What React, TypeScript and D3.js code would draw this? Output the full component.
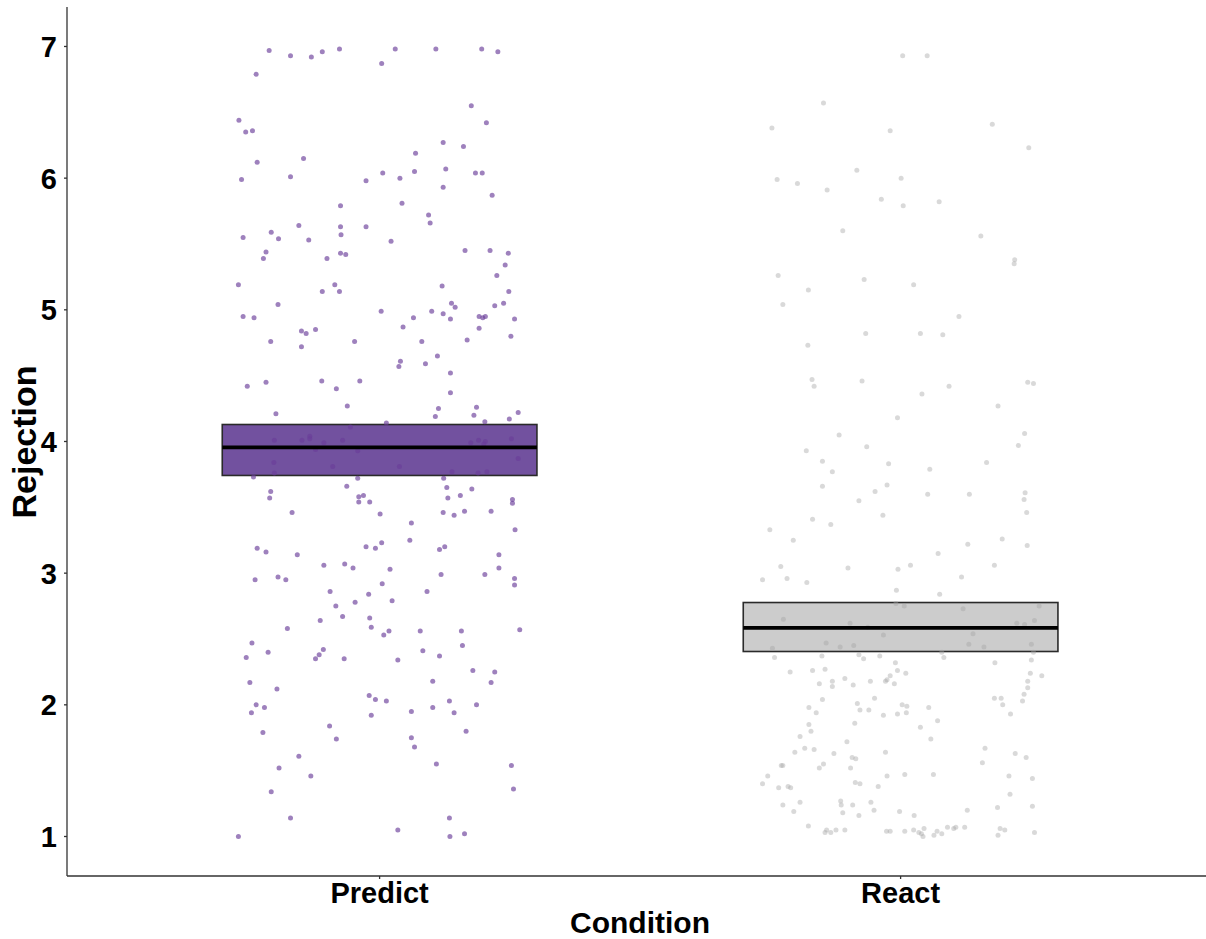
import React from "react";
import * as d3 from "d3";

// Categories
const categories = ["Predict", "React"];
const yTicks = [1, 2, 3, 4, 5, 6, 7];

// Summary boxes: [lower, mean, upper]
const predictSummary = [3.742, 3.955, 4.129];
const reactSummary = [2.405, 2.585, 2.777];

// Individual responses: [horizontal jitter (category units), Rejection]
const predictPoints: [number, number][] = [
  [-0.212, 6.97], [-0.171, 6.93], [-0.131, 6.92], [-0.11, 6.96], [-0.077, 6.98], [0.03, 6.98], [0.108, 6.98], [0.196, 6.98], [0.227, 6.96],
  [0.004, 6.87], [-0.237, 6.79], [0.176, 6.55], [-0.27, 6.44], [0.205, 6.42], [-0.257, 6.35], [-0.244, 6.36], [0.122, 6.27], [0.161, 6.24],
  [0.069, 6.19], [-0.235, 6.12], [-0.146, 6.15], [-0.265, 5.99], [-0.171, 6.01], [-0.026, 5.98], [0.006, 6.04], [0.039, 6.0], [0.067, 6.05],
  [0.127, 6.07], [0.184, 6.04], [0.197, 6.04], [0.122, 5.93], [0.216, 5.87], [-0.075, 5.79], [0.043, 5.81], [0.094, 5.72], [0.097, 5.66],
  [-0.155, 5.64], [-0.075, 5.63], [-0.026, 5.63], [-0.262, 5.55], [-0.208, 5.59], [-0.194, 5.54], [-0.136, 5.53], [-0.074, 5.57], [0.022, 5.52],
  [-0.218, 5.44], [-0.223, 5.39], [-0.101, 5.39], [-0.075, 5.43], [-0.065, 5.42], [0.164, 5.45], [0.212, 5.45], [0.247, 5.43], [0.241, 5.34],
  [0.225, 5.26], [-0.271, 5.19], [-0.11, 5.14], [-0.086, 5.19], [-0.077, 5.14], [0.12, 5.18], [0.248, 5.14], [-0.195, 5.04], [0.138, 5.05],
  [0.145, 5.02], [0.221, 5.03], [0.238, 5.05], [-0.262, 4.95], [-0.241, 4.94], [0.003, 4.99], [0.065, 4.94], [0.1, 4.99], [0.122, 4.97],
  [0.136, 4.93], [0.191, 4.95], [0.198, 4.94], [0.203, 4.95], [0.259, 4.93], [-0.15, 4.84], [-0.141, 4.82], [-0.123, 4.85], [0.045, 4.87],
  [0.191, 4.86], [-0.209, 4.76], [-0.15, 4.72], [-0.048, 4.76], [0.081, 4.76], [0.168, 4.77], [0.252, 4.8], [0.04, 4.61], [0.037, 4.57],
  [0.088, 4.59], [0.111, 4.65], [0.136, 4.52], [-0.254, 4.42], [-0.218, 4.45], [-0.111, 4.46], [-0.083, 4.4], [-0.038, 4.46], [0.136, 4.37],
  [-0.062, 4.27], [0.113, 4.25], [0.186, 4.26], [-0.199, 4.21], [0.107, 4.19], [0.181, 4.2], [0.249, 4.17], [0.266, 4.22], [0.202, 4.15],
  [0.013, 4.14], [-0.056, 4.11], [-0.202, 4.01], [-0.149, 4.01], [-0.134, 4.04], [-0.134, 4.02], [-0.107, 3.99], [-0.071, 4.01], [0.175, 3.99],
  [0.19, 4.01], [0.203, 4.0], [0.2, 3.98], [0.253, 4.02], [-0.123, 3.94], [-0.042, 3.93], [-0.203, 3.84], [-0.202, 3.76], [-0.09, 3.81],
  [0.038, 3.81], [0.139, 3.77], [0.189, 3.76], [0.206, 3.77], [0.266, 3.87], [-0.242, 3.73], [-0.042, 3.72], [-0.063, 3.66], [0.123, 3.72],
  [0.129, 3.65], [-0.209, 3.62], [-0.211, 3.57], [-0.04, 3.58], [-0.031, 3.59], [-0.04, 3.54], [-0.019, 3.54], [0.131, 3.57], [0.155, 3.59],
  [0.177, 3.64], [0.255, 3.56], [0.255, 3.53], [-0.168, 3.46], [0.001, 3.45], [0.122, 3.46], [0.143, 3.44], [0.163, 3.47], [0.214, 3.47],
  [0.061, 3.38], [0.26, 3.33], [-0.235, 3.19], [-0.218, 3.16], [-0.158, 3.14], [-0.026, 3.2], [-0.008, 3.19], [0.004, 3.23], [0.058, 3.25],
  [0.115, 3.18], [0.125, 3.2], [0.229, 3.14], [-0.107, 3.06], [-0.067, 3.07], [-0.051, 3.04], [0.02, 3.03], [0.229, 3.04], [-0.239, 2.95],
  [-0.195, 2.97], [-0.18, 2.95], [0.118, 2.99], [0.202, 2.99], [0.259, 2.96], [0.259, 2.91], [0.005, 2.92], [-0.095, 2.86], [-0.021, 2.84],
  [0.091, 2.86], [-0.084, 2.75], [-0.047, 2.78], [0.024, 2.79], [-0.114, 2.64], [-0.071, 2.67], [-0.019, 2.66], [-0.016, 2.59], [0.018, 2.56],
  [0.008, 2.53], [-0.177, 2.58], [0.078, 2.56], [0.157, 2.56], [0.269, 2.57], [-0.245, 2.47], [-0.256, 2.36], [-0.214, 2.4], [-0.123, 2.35],
  [-0.116, 2.38], [-0.108, 2.42], [-0.068, 2.35], [0.035, 2.34], [0.083, 2.41], [0.115, 2.37], [0.159, 2.45], [0.179, 2.26], [0.221, 2.25],
  [0.214, 2.17], [-0.249, 2.17], [-0.197, 2.12], [0.102, 2.18], [-0.02, 2.07], [-0.008, 2.04], [0.013, 2.03], [-0.237, 2.0], [-0.246, 1.94],
  [-0.221, 1.98], [-0.016, 1.92], [0.061, 1.95], [0.102, 1.98], [0.134, 2.03], [0.143, 1.94], [0.186, 2.0], [-0.224, 1.79], [-0.096, 1.84],
  [-0.083, 1.74], [0.061, 1.75], [0.067, 1.68], [0.166, 1.8], [-0.155, 1.61], [-0.193, 1.52], [-0.132, 1.46], [0.109, 1.55], [0.253, 1.54],
  [0.257, 1.36], [-0.208, 1.34], [-0.171, 1.14], [0.134, 1.14], [-0.271, 1.0], [0.035, 1.05], [0.135, 1.0], [0.163, 1.02],
];

const reactPoints: [number, number][] = [
  [0.004, 6.93], [0.051, 6.93], [-0.148, 6.57], [-0.247, 6.38], [-0.02, 6.36], [0.176, 6.41], [0.246, 6.23], [-0.237, 5.99], [-0.198, 5.96],
  [-0.141, 5.91], [-0.084, 6.06], [0.001, 6.0], [-0.037, 5.84], [0.005, 5.79], [0.074, 5.82], [-0.111, 5.6], [0.154, 5.56], [0.219, 5.38],
  [0.218, 5.35], [-0.235, 5.26], [-0.177, 5.15], [-0.226, 5.04], [-0.07, 5.23], [0.025, 5.19], [0.112, 4.95], [-0.067, 4.82], [0.038, 4.82],
  [0.081, 4.81], [-0.178, 4.73], [-0.17, 4.47], [-0.166, 4.42], [-0.074, 4.46], [0.041, 4.36], [0.093, 4.42], [0.244, 4.45], [0.255, 4.44],
  [0.187, 4.27], [-0.006, 4.18], [-0.118, 4.05], [-0.065, 3.96], [0.238, 4.06], [0.226, 3.97], [-0.181, 3.93], [-0.15, 3.85], [-0.131, 3.77],
  [-0.023, 3.83], [0.056, 3.79], [0.165, 3.84], [-0.15, 3.66], [-0.049, 3.62], [-0.026, 3.67], [0.052, 3.6], [0.132, 3.6], [0.239, 3.61],
  [0.237, 3.56], [-0.08, 3.55], [-0.034, 3.44], [0.242, 3.46], [-0.169, 3.41], [-0.134, 3.37], [-0.251, 3.33], [-0.206, 3.25], [0.129, 3.22],
  [0.195, 3.26], [0.243, 3.21], [0.072, 3.15], [-0.23, 3.05], [-0.101, 3.04], [-0.005, 3.03], [0.019, 3.06], [0.18, 3.06], [-0.265, 2.95],
  [-0.218, 2.96], [-0.18, 2.93], [0.117, 2.97], [-0.008, 2.87], [0.075, 2.84], [-0.009, 2.77], [0.007, 2.75], [0.12, 2.73], [0.266, 2.75],
  [-0.225, 2.65], [-0.097, 2.62], [-0.063, 2.59], [0.223, 2.62], [0.238, 2.61], [0.257, 2.64], [0.139, 2.54], [-0.033, 2.53], [-0.246, 2.43],
  [-0.143, 2.47], [-0.116, 2.44], [-0.09, 2.45], [0.131, 2.46], [0.16, 2.44], [0.251, 2.46], [-0.242, 2.36], [-0.151, 2.37], [-0.08, 2.38],
  [-0.071, 2.35], [-0.04, 2.37], [0.079, 2.4], [0.083, 2.36], [0.255, 2.4], [0.251, 2.34], [0.181, 2.32], [-0.212, 2.25], [-0.169, 2.26],
  [-0.145, 2.27], [-0.01, 2.32], [-0.006, 2.26], [0.01, 2.24], [0.249, 2.24], [0.271, 2.22], [-0.156, 2.16], [-0.131, 2.18], [-0.131, 2.14],
  [-0.107, 2.2], [-0.091, 2.15], [-0.058, 2.18], [-0.029, 2.18], [-0.026, 2.19], [-0.02, 2.22], [-0.012, 2.16], [0.244, 2.18], [0.244, 2.13],
  [-0.15, 2.04], [-0.083, 2.01], [-0.078, 1.96], [-0.061, 1.96], [-0.05, 2.05], [0.003, 2.0], [0.012, 1.99], [0.054, 1.98], [0.18, 2.05],
  [0.193, 2.05], [0.196, 2.0], [0.237, 2.08], [0.234, 2.03], [0.211, 1.93], [-0.176, 1.98], [-0.162, 1.94], [-0.033, 1.92], [-0.006, 1.93],
  [0.011, 1.94], [0.071, 1.88], [-0.176, 1.85], [-0.172, 1.8], [-0.088, 1.86], [0.038, 1.83], [0.058, 1.74], [-0.193, 1.76], [-0.103, 1.72],
  [-0.203, 1.64], [-0.184, 1.67], [-0.166, 1.66], [-0.128, 1.63], [-0.029, 1.64], [0.162, 1.67], [0.22, 1.63], [0.241, 1.6], [-0.229, 1.54],
  [-0.226, 1.54], [-0.148, 1.55], [-0.156, 1.52], [-0.096, 1.52], [-0.093, 1.6], [-0.086, 1.59], [0.157, 1.56], [-0.255, 1.46], [-0.265, 1.4],
  [-0.234, 1.37], [-0.216, 1.38], [-0.211, 1.37], [-0.087, 1.41], [-0.078, 1.4], [-0.043, 1.38], [-0.026, 1.46], [0.008, 1.47], [0.063, 1.47],
  [0.208, 1.46], [0.253, 1.44], [0.21, 1.32], [-0.226, 1.24], [-0.193, 1.26], [-0.205, 1.19], [-0.115, 1.27], [-0.114, 1.24], [-0.111, 1.18],
  [-0.092, 1.24], [-0.08, 1.16], [-0.057, 1.26], [-0.051, 1.2], [-0.002, 1.19], [0.026, 1.16], [0.128, 1.2], [0.186, 1.22], [0.253, 1.23],
  [-0.177, 1.08], [-0.145, 1.03], [-0.142, 1.05], [-0.134, 1.03], [-0.124, 1.05], [-0.107, 1.05], [-0.027, 1.04], [-0.02, 1.04], [0.008, 1.04],
  [0.025, 1.05], [0.035, 1.03], [0.04, 1.02], [0.043, 1.0], [0.045, 1.06], [0.064, 1.01], [0.07, 1.04], [0.079, 1.02], [0.09, 1.07],
  [0.102, 1.06], [0.106, 1.07], [0.123, 1.07], [0.187, 1.01], [0.191, 1.06], [0.2, 1.05], [0.257, 1.03],
];

const groups = [
  { name: categories[0], points: predictPoints, summary: predictSummary, boxFill: "#72519f", pointFill: "rgb(106,61,154)", pointOpacity: 0.65 },
  { name: categories[1], points: reactPoints, summary: reactSummary, boxFill: "#cccccc", pointFill: "rgb(165,165,165)", pointOpacity: 0.42 },
];

export default function App() {
  const W = 1206;
  const H = 939;
  const left = 67;
  const bottom = 876;
  const top = 7;

  const x = d3.scaleLinear().domain([0.4, 2.6]).range([left, left + 2.2 * 521]);
  const y = d3.scaleLinear().domain([0.7, 7.3]).range([bottom, bottom - 6.6 * 131.67]);
  const boxHalf = 0.302;
  const font = "Arial, 'Liberation Sans', sans-serif";

  return (
    <svg width={W} height={H} style={{ position: "absolute", left: 0, top: 0, background: "#fff" }} fontFamily={font}>
      {groups.map((g, gi) => {
        const cx = gi + 1;
        const [lo, mean, hi] = g.summary;
        return (
          <g key={g.name}>
            <rect
              x={x(cx - boxHalf)}
              y={y(hi)}
              width={x(cx + boxHalf) - x(cx - boxHalf)}
              height={y(lo) - y(hi)}
              fill={g.boxFill}
              stroke="#2a2a2a"
              strokeWidth={1.6}
            />
            {g.points.map((p, i) => (
              <circle key={i} cx={x(cx + p[0])} cy={y(p[1])} r={2.5} fill={g.pointFill} fillOpacity={g.pointOpacity} />
            ))}
            <line x1={x(cx - boxHalf)} x2={x(cx + boxHalf)} y1={y(mean)} y2={y(mean)} stroke="#000" strokeWidth={3.8} />
          </g>
        );
      })}
      {/* axes */}
      <line x1={left} x2={left} y1={top} y2={bottom} stroke="#333" strokeWidth={1.3} />
      <line x1={left} x2={W} y1={bottom} y2={bottom} stroke="#333" strokeWidth={1.3} />
      {yTicks.map((t) => (
        <g key={t}>
          <line x1={left - 3} x2={left} y1={y(t)} y2={y(t)} stroke="#333" strokeWidth={1.3} />
          <text x={left - 10} y={y(t)} dy="0.36em" textAnchor="end" fontSize={29} fontWeight="bold" fill="#000">
            {t}
          </text>
        </g>
      ))}
      {categories.map((c, i) => (
        <g key={c}>
          <line x1={x(i + 1)} x2={x(i + 1)} y1={bottom} y2={bottom + 3} stroke="#333" strokeWidth={1.3} />
          <text x={x(i + 1)} y={bottom + 27} textAnchor="middle" fontSize={29} fontWeight="bold" fill="#000">
            {c}
          </text>
        </g>
      ))}
      <text x={640} y={933} textAnchor="middle" fontSize={30} fontWeight="bold" fill="#000">
        Condition
      </text>
      <text transform={`translate(36, 442) rotate(-90)`} textAnchor="middle" fontSize={34} fontWeight="bold" fill="#000">
        Rejection
      </text>
    </svg>
  );
}
